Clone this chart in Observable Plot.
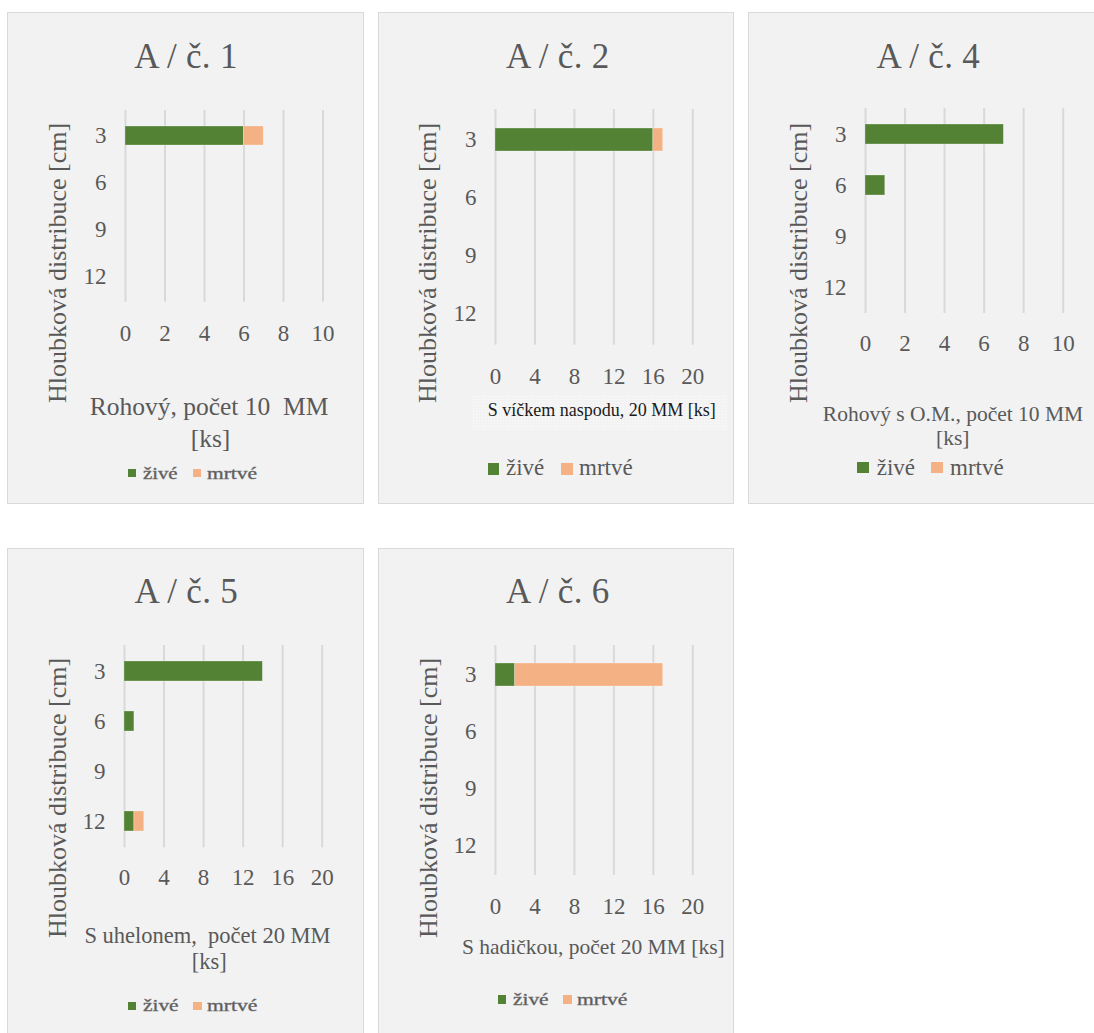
<!DOCTYPE html>
<html>
<head>
<meta charset="utf-8">
<script src="https://cdn.jsdelivr.net/npm/d3@7"></script>
<script src="https://cdn.jsdelivr.net/npm/@observablehq/plot@0.6"></script>
<style>
  html, body { margin: 0; padding: 0; background: #ffffff; }
  #page { position: relative; width: 1094px; height: 1033px; overflow: hidden; font-family: "Liberation Serif", "Times New Roman", serif; color: #595959; }
  .panel { position: absolute; box-sizing: border-box; background: #f2f2f2; border: 1.5px solid #d9d9d9; }
  .txt { position: absolute; white-space: nowrap; line-height: 1; font-family: "Liberation Serif", "Times New Roman", serif; }
  .sq { position: absolute; }
  svg { position: absolute; overflow: visible; }
</style>
</head>
<body>
<div id="page"></div>
<script>
// ---------------- DATA ----------------
const depths = ["3", "6", "9", "12"];
const seriesNames = ["živé", "mrtvé"];
const seriesColors = ["#548235", "#f4b183"];
const titles = ["A / č. 1", "A / č. 2", "A / č. 4", "A / č. 5", "A / č. 6"];
const yTitle = "Hloubková distribuce [cm]";
const xTitles = [
  ["Rohový, počet 10\u00a0 MM", "[ks]"],
  ["S víčkem naspodu, 20 MM [ks]"],
  ["Rohový s O.M., počet 10 MM", "[ks]"],
  ["S uhelonem,\u00a0 počet 20 MM", "[ks]"],
  ["S hadičkou, počet 20 MM [ks]"]
];
const xMaxes = [10, 20, 10, 20, 20];
const xTicks = [
  [0, 2, 4, 6, 8, 10],
  [0, 4, 8, 12, 16, 20],
  [0, 2, 4, 6, 8, 10],
  [0, 4, 8, 12, 16, 20],
  [0, 4, 8, 12, 16, 20]
];
const ziveValues = [
  [6, 0, 0, 0],
  [16, 0, 0, 0],
  [7, 1, 0, 0],
  [14, 1, 0, 1],
  [2, 0, 0, 0]
];
const mrtveValues = [
  [1, 0, 0, 0],
  [1, 0, 0, 0],
  [0, 0, 0, 0],
  [0, 0, 0, 1],
  [15, 0, 0, 0]
];

// ---------------- LAYOUT (page pixel coordinates) ----------------
const layout = [
  { box: [7, 12, 357, 492], x0: 124.5, x1: 322, top: 110, bottom: 301.7, pad: 22.5,
    title: [186, 68.3], ylab: [57.5, 262.5],
    xt: { size: 25.5, lines: [[209, 415], [210.5, 447]], color: "#595959" },
    leg: { size: 17, sqS: 8.5, sqY: 468.5, base: 479, fit: true,
           items: [[127.5, 142.7, 34.6], [192.5, 207, 50]] } },
  { box: [378, 12, 356, 492], x0: 495, x1: 692.3, top: 109.3, bottom: 345, pad: 22,
    title: [557.8, 68.3], ylab: [428, 262.5],
    xt: { size: 18, lines: [[601.7, 416]], color: "#1a1a1a", boxed: [471.7, 395, 256.6, 35] },
    leg: { size: 23, sqS: 11.5, sqY: 463, base: 475, fit: false,
           items: [[487.7, 506, null], [561, 579, null]] } },
  { box: [748, 12, 360, 492], x0: 865, x1: 1062.7, top: 108.3, bottom: 313.3, pad: 21.3,
    title: [928.3, 68.3], ylab: [799, 262.5],
    xt: { size: 21.5, lines: [[953, 421.7], [952.7, 446.5]], color: "#595959" },
    leg: { size: 23, sqS: 11.8, sqY: 461.6, base: 475, fit: false,
           items: [[857.3, 876.7, null], [931, 950, null]] } },
  { box: [7, 548, 357, 500], x0: 124.3, x1: 322, top: 645, bottom: 847.3, pad: 20.7,
    title: [186.3, 603.5], ylab: [57.5, 798],
    xt: { size: 22.5, lines: [[207.5, 944], [209.3, 970]], color: "#595959" },
    leg: { size: 17, sqS: 8.7, sqY: 1001.5, base: 1011, fit: true,
           items: [[127.7, 142.7, 35.6], [193.3, 207.3, 50.4]] } },
  { box: [378, 548, 356, 500], x0: 495, x1: 692.3, top: 645, bottom: 875, pad: 22,
    title: [557.8, 603.5], ylab: [429, 798],
    xt: { size: 21.5, lines: [[593.3, 955]], color: "#595959" },
    leg: { size: 17, sqS: 8.7, sqY: 995, base: 1005, fit: true,
           items: [[497.7, 512.7, 35.6], [563.3, 577.3, 50.4]] } }
];

const page = document.getElementById("page");
const ASC = 0.8375; // baseline offset (em) for line-height 1 in Liberation Serif

function addText(str, x, baseline, size, opts = {}) {
  const el = document.createElement("div");
  el.className = "txt";
  el.textContent = str;
  el.style.fontSize = size + "px";
  el.style.top = (baseline - ASC * size) + "px";
  el.style.left = x + "px";
  if (opts.color) el.style.color = opts.color;
  if (opts.weight) el.style.fontWeight = opts.weight;
  if (opts.stroke) el.style.webkitTextStroke = opts.stroke;
  if (opts.spacing) el.style.letterSpacing = opts.spacing;
  page.appendChild(el);
  if (opts.anchor === "middle") {
    el.style.transform = "translateX(-50%)";
  } else if (opts.fitW) {
    const w = el.getBoundingClientRect().width;
    el.style.transformOrigin = "0 0";
    el.style.transform = `scaleX(${opts.fitW / w})`;
  }
  return el;
}

layout.forEach((L, i) => {
  // panel background
  const p = document.createElement("div");
  p.className = "panel";
  p.style.left = L.box[0] + "px"; p.style.top = L.box[1] + "px";
  p.style.width = L.box[2] + "px"; p.style.height = L.box[3] + "px";
  page.appendChild(p);

  // title
  addText(titles[i], L.title[0], L.title[1], 35, { anchor: "middle", spacing: "0.3px" });

  // rotated y title
  const yl = document.createElement("div");
  yl.className = "txt";
  yl.textContent = yTitle;
  yl.style.fontSize = "26px";
  yl.style.left = L.ylab[0] + "px";
  yl.style.top = L.ylab[1] + "px";
  yl.style.transform = "translate(-50%, -50%) rotate(-90deg)";
  page.appendChild(yl);

  // chart data
  const rows = [];
  depths.forEach((d, k) => {
    if (ziveValues[i][k] > 0) rows.push({ depth: d, status: seriesNames[0], value: ziveValues[i][k] });
    if (mrtveValues[i][k] > 0) rows.push({ depth: d, status: seriesNames[1], value: mrtveValues[i][k] });
  });

  const svgLeft = L.x0 - 90;
  const svgTop = L.top - 6;
  const width = (L.x1 - L.x0) + 90 + 24;
  const height = (L.bottom - L.top) + 6 + 46;

  const chart = Plot.plot({
    width, height,
    marginLeft: 90, marginRight: 24, marginTop: 6, marginBottom: 46,
    style: { background: "transparent", fontFamily: "'Liberation Serif', 'Times New Roman', serif", fontSize: "23px", color: "#595959", overflow: "visible" },
    x: { domain: [0, xMaxes[i]], label: null },
    y: { type: "band", domain: depths, paddingInner: 0.6, paddingOuter: 0.3, label: null },
    color: { domain: seriesNames, range: seriesColors },
    marks: [
      Plot.gridX(xTicks[i], { stroke: "#d9d9d9", strokeOpacity: 1, strokeWidth: 2 }),
      Plot.barX(rows, Plot.stackX({ x: "value", y: "depth", fill: "status", order: seriesNames,
                                    stroke: "#ffffff", strokeOpacity: 0.35, strokeWidth: 0.8 })),
      Plot.axisX({ ticks: xTicks[i], tickSize: 0, tickPadding: L.pad, label: null, fill: "#595959" }),
      Plot.axisY({ tickSize: 0, tickPadding: 19, label: null, fill: "#595959" })
    ]
  });
  chart.style.left = svgLeft + "px";
  chart.style.top = svgTop + "px";
  page.appendChild(chart);

  // x title
  if (L.xt.boxed) {
    const b = document.createElement("div");
    b.style.position = "absolute";
    b.style.left = L.xt.boxed[0] + "px"; b.style.top = L.xt.boxed[1] + "px";
    b.style.width = L.xt.boxed[2] + "px"; b.style.height = L.xt.boxed[3] + "px";
    b.style.background = "#f3f3f3";
    b.style.backgroundImage = "radial-gradient(#fbfbfb 0.6px, transparent 0.8px)";
    b.style.backgroundSize = "3px 3px";
    page.appendChild(b);
  }
  xTitles[i].forEach((line, k) => {
    const pos = L.xt.lines[k];
    addText(line, pos[0], pos[1], L.xt.size, { anchor: "middle", color: L.xt.color });
  });

  // legend
  L.leg.items.forEach((it, k) => {
    const s = document.createElement("div");
    s.className = "sq";
    s.style.left = it[0] + "px";
    s.style.top = L.leg.sqY + "px";
    s.style.width = L.leg.sqS + "px";
    s.style.height = L.leg.sqS + "px";
    s.style.background = seriesColors[k];
    page.appendChild(s);
    const opts = {};
    if (L.leg.fit) { opts.fitW = it[2]; opts.stroke = "0.4px #707070"; }
    addText(seriesNames[k], it[1], L.leg.base, L.leg.size, opts);
  });
});
</script>
</body>
</html>
